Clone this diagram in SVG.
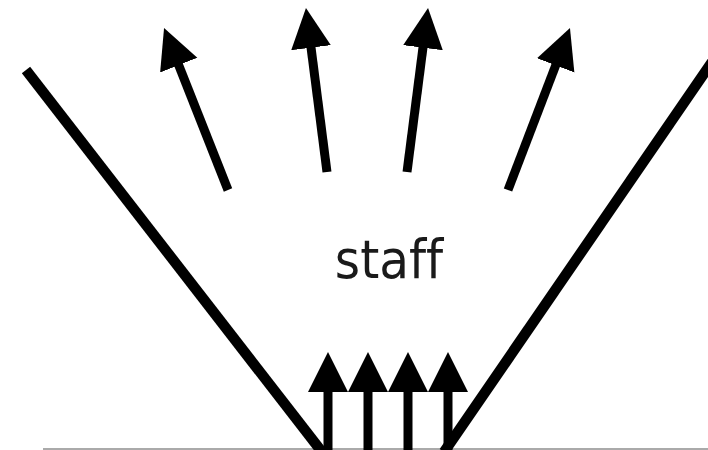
<svg xmlns="http://www.w3.org/2000/svg" width="708" height="450" viewBox="0 0 708 450">
  <style>
    .wall { stroke: #000; stroke-width: 10.5; fill: none; }
    .arrow { stroke: #000; stroke-width: 9; fill: none; marker-end: url(#head); }
    .label { font-family: "DejaVu Sans Condensed", "DejaVu Sans", sans-serif; font-size: 54px; fill: #1a1a1a; font-variant-ligatures: none; font-feature-settings: "liga" 0; }
  </style>
  <defs>
    <marker id="head" markerUnits="userSpaceOnUse" markerWidth="42" markerHeight="42" viewBox="0 -21 42 42" refX="2" refY="0" orient="auto">
      <path d="M0,-20 L40,0 L0,20 z" fill="#000"/>
    </marker>
  </defs>
  <rect width="708" height="450" fill="#fff"/>
  <g id="connectors">
    <line x1="43" y1="449" x2="708" y2="449" stroke="#aaa" stroke-width="2"/>
    <line class="wall" x1="26" y1="70" x2="322" y2="452"/>
    <line class="wall" x1="712" y1="62" x2="444" y2="452"/>
    <line class="arrow" x1="228" y1="190" x2="178" y2="63.3"/>
    <line class="arrow" x1="327" y1="172" x2="310.8" y2="45.7"/>
    <line class="arrow" x1="407" y1="172" x2="423.2" y2="45.7"/>
    <line class="arrow" x1="508" y1="190" x2="556.4" y2="63.5"/>
    <line class="arrow" x1="328" y1="452" x2="328" y2="390"/>
    <line class="arrow" x1="368" y1="452" x2="368" y2="390"/>
    <line class="arrow" x1="408" y1="452" x2="408" y2="390"/>
    <line class="arrow" x1="448" y1="452" x2="448" y2="390"/>
  </g>
  <g id="staff">
    <text class="label" x="389" y="278" text-anchor="middle">staff</text>
  </g>
</svg>
